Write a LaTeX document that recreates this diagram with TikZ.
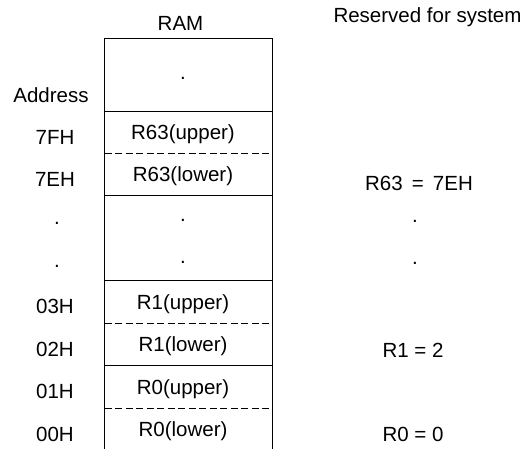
\documentclass[tikz,border=0pt]{standalone}
\usepackage{fontspec}
\setmainfont{Liberation Sans}

\begin{document}
\begin{tikzpicture}[x=1pt,y=-1pt,
	txt/.style={anchor=base,inner sep=0pt,font=\fontsize{20.5}{24}\selectfont},
	solidsep/.style={line width=0.9pt},
	dashsep/.style={line width=0.9pt,dash pattern=on 7pt off 3.5pt}]
	\useasboundingbox (0,0) rectangle (527,448);
	% RAM column
	\draw[solidsep] (104.5,449) -- (104.5,38) -- (272,38) -- (272,449);
	\foreach \y in {111,195,280,365}
		\draw[solidsep] (104.5,\y) -- (272,\y);
	\foreach \y in {153,323,408}
		\draw[dashsep] (104.5,\y) -- (272,\y);
	% headings
	\node[txt] (ram) at (180.5,30) {RAM};
	\node[txt] (reserved) at (427.5,22) {Reserved for system};
	\node[txt] (addr) at (51,102) {Address};
	% cell contents
	\node[txt] (top) at (183,79.5) {.};
	\node[txt] (r63u) at (183,139.5) {R63(upper)};
	\node[txt] (r63l) at (183,181.5) {R63(lower)};
	\node[txt] (midA) at (183,221.5) {.};
	\node[txt] (midB) at (183,263.5) {.};
	\node[txt] (r1u) at (183,309) {R1(upper)};
	\node[txt] (r1l) at (183,351.5) {R1(lower)};
	\node[txt] (r0u) at (183,394) {R0(upper)};
	\node[txt] (r0l) at (183,436.5) {R0(lower)};
	% addresses
	\node[txt] (a7F) at (55,144) {7FH};
	\node[txt] (a7E) at (55,186) {7EH};
	\node[txt] (adA) at (57,224.5) {.};
	\node[txt] (adB) at (57,267.5) {.};
	\node[txt] (a03) at (55,313.5) {03H};
	\node[txt] (a02) at (55,356) {02H};
	\node[txt] (a01) at (55,398.5) {01H};
	\node[txt] (a00) at (55,441) {00H};
	% register values
	\node[txt] (v63) at (419,190) {R63 \,=\, 7EH};
	\node[txt] (vA) at (415,222.5) {.};
	\node[txt] (vB) at (415,264.5) {.};
	\node[txt] (v1) at (413,357) {R1 = 2};
	\node[txt] (v0) at (413,441) {R0 = 0};
\end{tikzpicture}
\end{document}
